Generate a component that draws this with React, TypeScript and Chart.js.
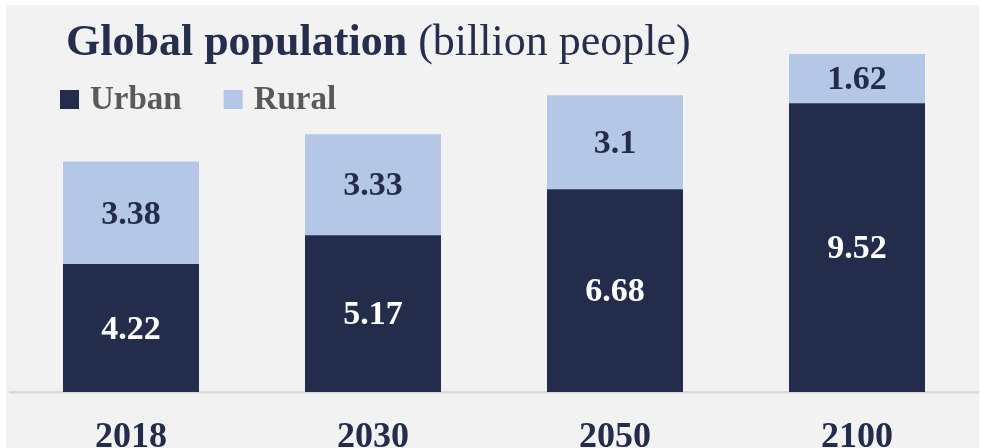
import React, { useEffect, useRef } from "react";
import { Chart, registerables } from "chart.js";

Chart.register(...registerables);

const years = ["2018", "2030", "2050", "2100"];
const urban = [4.22, 5.17, 6.68, 9.52];
const rural = [3.38, 3.33, 3.1, 1.62];
const titleBold = "Global population";
const titleNormal = " (billion people)";
const seriesNames = ["Urban", "Rural"];

const NAVY = "#232d4b";
const LIGHT = "#b4c7e7";
const FONT = "'Liberation Serif', 'Times New Roman', serif";

const overlayPlugin = {
  id: "overlay",
  afterDatasetsDraw(chart: any) {
    const ctx = chart.ctx;
    ctx.save();
    // value labels
    chart.data.datasets.forEach((ds: any, i: number) => {
      const meta = chart.getDatasetMeta(i);
      meta.data.forEach((el: any, j: number) => {
        const v = ds.data[j];
        const cy = (el.y + el.base) / 2 + 2;
        ctx.font = `bold 34px ${FONT}`;
        ctx.fillStyle = ds.labelColor;
        ctx.textAlign = "center";
        ctx.textBaseline = "middle";
        ctx.fillText(String(v), el.x, cy);
      });
    });
    // title
    ctx.textAlign = "left";
    ctx.textBaseline = "alphabetic";
    ctx.fillStyle = "#262e4d";
    ctx.font = `bold 44px ${FONT}`;
    const tx = 60;
    const ty = 50;
    ctx.fillText(titleBold, tx, ty);
    const w = ctx.measureText(titleBold).width;
    ctx.font = `44px ${FONT}`;
    ctx.fillText(titleNormal, tx + w, ty);
    // legend
    let lx = 54;
    const ly = 104;
    chart.data.datasets.forEach((ds: any) => {
      ctx.fillStyle = ds.backgroundColor;
      ctx.fillRect(lx, ly - 19, 19, 19);
      ctx.font = `bold 33px ${FONT}`;
      ctx.fillStyle = "#595959";
      ctx.fillText(ds.label, lx + 30, ly);
      lx += 30 + ctx.measureText(ds.label).width + 42;
    });
    ctx.restore();
  },
};

export default function App() {
  const ref = useRef<HTMLCanvasElement | null>(null);
  useEffect(() => {
    if (!ref.current) return;
    const chart = new Chart(ref.current, {
      type: "bar",
      data: {
        labels: years,
        datasets: [
          {
            label: seriesNames[0],
            data: urban,
            backgroundColor: NAVY,
            labelColor: "#ffffff",
            barPercentage: 0.562,
            categoryPercentage: 1,
          } as any,
          {
            label: seriesNames[1],
            data: rural,
            backgroundColor: LIGHT,
            labelColor: NAVY,
            barPercentage: 0.562,
            categoryPercentage: 1,
          } as any,
        ],
      },
      options: {
        animation: false,
        responsive: true,
        maintainAspectRatio: false,
        layout: { padding: { top: 23, left: 4, right: 1, bottom: 0 } },
        plugins: {
          legend: { display: false },
          title: { display: false },
          tooltip: { enabled: false },
        },
        scales: {
          x: {
            stacked: true,
            grid: { display: false, drawTicks: false },
            border: { display: true, color: "#d9d9d9", width: 2.5 },
            ticks: {
              color: NAVY,
              font: { family: FONT, size: 36, weight: "bold" },
              padding: 24,
            },
            afterFit: (scale: any) => {
              scale.height = 56;
            },
          },
          y: {
            stacked: true,
            display: false,
            min: 0,
            max: 12,
          },
        },
      },
      plugins: [overlayPlugin],
    });
    return () => chart.destroy();
  }, []);

  return (
    <div
      style={{
        position: "absolute",
        left: 0,
        top: 0,
        width: 982,
        height: 448,
        background: "#ffffff",
        overflow: "hidden",
      }}
    >
      <div
        style={{
          position: "absolute",
          left: 6,
          top: 5,
          width: 973,
          height: 443,
          background: "#f2f2f2",
        }}
      >
        <canvas ref={ref} />
      </div>
    </div>
  );
}
